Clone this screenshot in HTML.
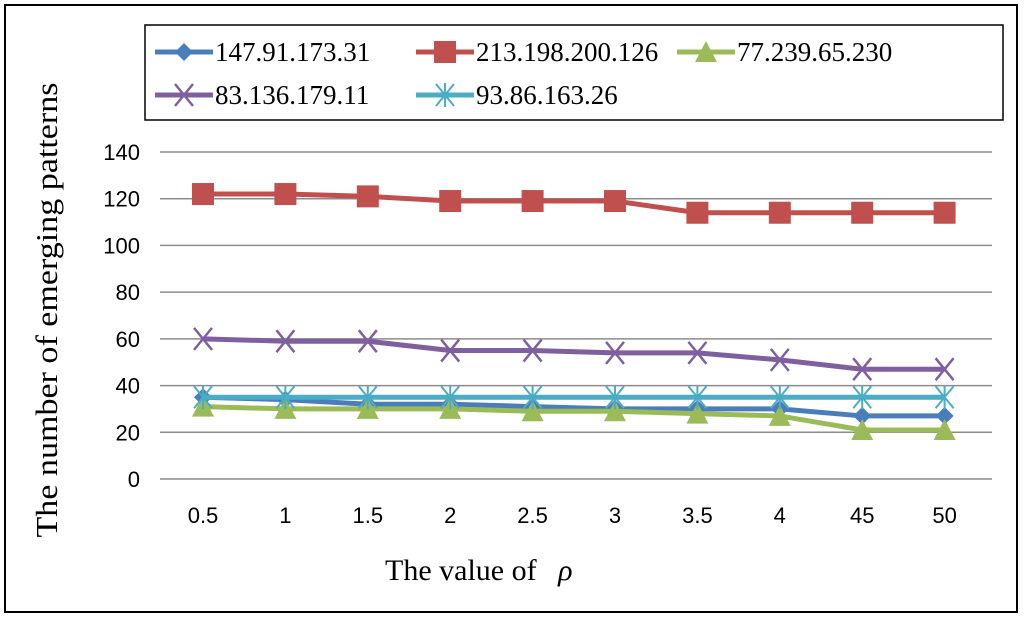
<!DOCTYPE html>
<html><head><meta charset="utf-8"><style>
body{margin:0;background:#fff;}
svg{display:block;}
</style></head><body>
<svg width="1024" height="618" xmlns="http://www.w3.org/2000/svg">
<rect x="5" y="5" width="1012" height="607" fill="#fff" stroke="#000" stroke-width="2"/>
<g id="grid"></g>
<g id="ticks" font-family="Liberation Sans, sans-serif" font-size="22" fill="#000"></g>
<g id="series"></g>
<text x="57" y="310" transform="rotate(-90 57 310)" text-anchor="middle" font-family="Liberation Serif, serif" font-size="31" textLength="455" lengthAdjust="spacingAndGlyphs">The number of emerging patterns</text>
<text x="385" y="580" font-family="Liberation Serif, serif" font-size="30">The value of <tspan font-style="italic" dx="14">ρ</tspan></text>
<rect x="145" y="25" width="858" height="95" fill="#fff" stroke="#000" stroke-width="1.5"/>
<g id="legend" font-family="Liberation Serif, serif" font-size="27"></g>
</svg>
<script>
const categories=["0.5","1","1.5","2","2.5","3","3.5","4","45","50"];
const yTicks=[0,20,40,60,80,100,120,140];
const seriesNames=["147.91.173.31","213.198.200.126","77.239.65.230","83.136.179.11","93.86.163.26"];
const s1=[35,34,32,32,31,30,30,30,27,27];
const s2=[122,122,121,119,119,119,114,114,114,114];
const s3=[31,30,30,30,29,29,28,27,21,21];
const s4=[60,59,59,55,55,54,54,51,47,47];
const s5=[35,35,35,35,35,35,35,35,35,35];
const NS="http://www.w3.org/2000/svg";
const X=i=>203+i*82.4;
const Y=v=>479-v*(327/140);
function mk(t,a,p){const e=document.createElementNS(NS,t);for(const k in a)e.setAttribute(k,a[k]);p.appendChild(e);return e;}
const grid=document.getElementById('grid'),ticks=document.getElementById('ticks');
yTicks.forEach(v=>{
  const l=mk('line',{x1:160,x2:992,y1:Y(v),y2:Y(v),stroke:'#8c8c8c','stroke-width':1.5},grid);
  
  
  const t=mk('text',{x:140,y:Y(v)+8,'text-anchor':'end'},ticks);t.textContent=v;
  
  
});
categories.forEach((c,i)=>{
  const t=mk('text',{x:X(i),y:523,'text-anchor':'middle'},ticks);t.textContent=c;
  
  
});
const colors=["#4a7ebb","#c0504d","#9bbb59","#7f5fa0","#4bacc6"];
const markers=["diamond","square","triangle","x","star"];
function marker(g,type,x,y,c){
  let e;
  if(type==="diamond")e=mk('polygon',{points:`${x},${y-9} ${x+9},${y} ${x},${y+9} ${x-9},${y}`,fill:c},g);
  else if(type==="square")e=mk('rect',{x:x-11,y:y-11,width:22,height:22,fill:c},g);
  else if(type==="triangle")e=mk('polygon',{points:`${x},${y-11} ${x+11},${y+10} ${x-11},${y+10}`,fill:c},g);
  else if(type==="x")e=mk('path',{d:`M${x-9},${y-11}L${x+9},${y+11}M${x+9},${y-11}L${x-9},${y+11}`,stroke:c,'stroke-width':2.5},g);
  else e=mk('path',{d:`M${x-9},${y-11}L${x+9},${y+11}M${x+9},${y-11}L${x-9},${y+11}M${x},${y-12}L${x},${y+12}`,stroke:c,'stroke-width':2},g);
  return e;
}
const sg=document.getElementById('series');
[s1,s2,s3,s4,s5].forEach((d,k)=>{
  const g=mk('g',{},sg);
  
  
  const p=mk('polyline',{points:d.map((v,i)=>X(i)+','+Y(v)).join(' '),fill:'none',stroke:colors[k],'stroke-width':5},g);
  
  
  d.forEach((v,i)=>{
    const m=marker(g,markers[k],X(i),Y(v),colors[k]);
    
    
  });
});
const lg=document.getElementById('legend');
const lpos=[[155,52],[416,52],[677,52],[155,95],[416,95]];
seriesNames.forEach((n,k)=>{
  const [x,y]=lpos[k];
  const g=mk('g',{},lg);
  
  
  mk('line',{x1:x,x2:x+58,y1:y,y2:y,stroke:colors[k],'stroke-width':5},g);
  marker(g,markers[k],x+29,y,colors[k]);
  const t=mk('text',{x:x+60,y:y+9},g);t.textContent=n;
});
</script>
</body></html>
